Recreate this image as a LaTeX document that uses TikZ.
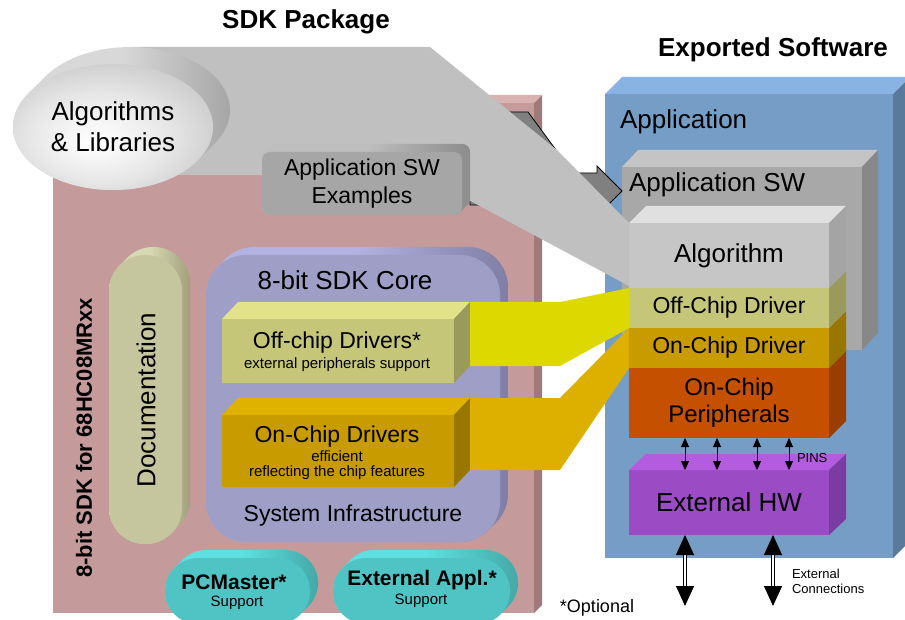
\documentclass[tikz,border=0pt]{standalone}
\usepackage{fontspec}
\setmainfont{Liberation Sans}
\usetikzlibrary{shapes.geometric,arrows.meta}

\definecolor{pinkF}{HTML}{C49A9A}
\definecolor{pinkT}{HTML}{D9B2B2}
\definecolor{pinkS}{HTML}{9E7A7A}
\definecolor{bandG}{HTML}{C0C0C0}
\definecolor{blueF}{HTML}{759DC6}
\definecolor{blueT}{HTML}{88B3E2}
\definecolor{blueS}{HTML}{5A7A9C}
\definecolor{appF}{HTML}{A8A8A8}
\definecolor{appT}{HTML}{C4C4C4}
\definecolor{appS}{HTML}{888888}
\definecolor{algF}{HTML}{C6C6C6}
\definecolor{algT}{HTML}{E0E0E0}
\definecolor{algS}{HTML}{A4A4A4}
\definecolor{offF}{HTML}{C6C678}
\definecolor{offT}{HTML}{E2E28A}
\definecolor{offS}{HTML}{9A9A5C}
\definecolor{onF}{HTML}{C89B00}
\definecolor{onT}{HTML}{E0B200}
\definecolor{onS}{HTML}{987600}
\definecolor{perF}{HTML}{C45000}
\definecolor{perS}{HTML}{9A3E00}
\definecolor{hwF}{HTML}{9B4CC4}
\definecolor{hwT}{HTML}{B45CE0}
\definecolor{hwS}{HTML}{7A3CA0}
\definecolor{coreF}{HTML}{9E9EC6}
\definecolor{coreT}{HTML}{B2B2E0}
\definecolor{coreS}{HTML}{7E7EA6}
\definecolor{docF}{HTML}{C6C69E}
\definecolor{docT}{HTML}{D8D8B2}
\definecolor{docS}{HTML}{A0A07E}
\definecolor{tealF}{HTML}{50C4C4}
\definecolor{tealT}{HTML}{5EE0E0}
\definecolor{tealS}{HTML}{44A8A8}
\definecolor{yelC}{HTML}{DDD800}
\definecolor{orgC}{HTML}{DDB000}
\definecolor{exF}{HTML}{A6A6A6}
\definecolor{exT}{HTML}{BEBEBE}
\definecolor{exS}{HTML}{8C8C8C}
\definecolor{arrG}{HTML}{808080}
\definecolor{ellT}{HTML}{D8D8D8}
\definecolor{ellS}{HTML}{A6A6A6}

\pgfdeclareradialshading{ellsh}{\pgfpoint{-5bp}{-6bp}}{color(0bp)=(white); color(6bp)=(white!97!black); color(18bp)=(black!10); color(30bp)=(black!20); color(40bp)=(black!27); color(60bp)=(black!27)}

\newcommand\fsz[1]{\fontsize{#1}{#1}\selectfont}
% faces of an extruded box: name, dx, dy (up), top colour, side colour
\newcommand\cubefaces[5]{%
  \fill[#4] (#1.north west) -- ++(#2,-#3) -- ([shift={(#2,-#3)}]#1.north east) -- (#1.north east) -- cycle;
  \fill[#5] (#1.north east) -- ++(#2,-#3) -- ([shift={(#2,-#3)}]#1.south east) -- (#1.south east) -- cycle;}
% hull of a rounded rectangle extruded up-right: x1,y1,x2,y2 (front, pixel), radius, depth, style
\newcommand\hullshape[7]{%
  \path[#7] plot[domain=225:180,samples=10] ({#1+#5+#5*cos(\x)},{#2+#5+#5*sin(\x)})
   -- plot[domain=180:90,samples=18] ({#1+#5+#5*cos(\x)},{#4-#5+#5*sin(\x)})
   -- plot[domain=90:45,samples=10] ({#3-#5+#5*cos(\x)},{#4-#5+#5*sin(\x)})
   -- plot[domain=45:0,samples=10] ({#3-#5+#6+#5*cos(\x)},{#4-#5-#6+#5*sin(\x)})
   -- plot[domain=360:270,samples=18] ({#3-#5+#6+#5*cos(\x)},{#2+#5-#6+#5*sin(\x)})
   -- plot[domain=270:225,samples=10] ({#1+#5+#6+#5*cos(\x)},{#2+#5-#6+#5*sin(\x)})
   -- cycle;}

\begin{document}
\begin{tikzpicture}[x=1pt,y=-1pt,
  every node/.style={inner sep=0pt, outer sep=0pt},
  face/.style={rectangle, align=center, text=black},
  lbl/.style={align=center, text=black},
  pinarrow/.style={line width=0.9pt, {Triangle[length=9pt,width=8pt]}-{Triangle[length=9pt,width=8pt]}},
  extarrow/.style={double distance=2.6pt, line width=1pt, {Triangle[length=20pt,width=18pt]}-{Triangle[length=20pt,width=18pt]}}]

\useasboundingbox (0,0) rectangle (905,620);
\clip (0,0) rectangle (905,620);

% ---------- SDK package box ----------
\node[face, fill=pinkF, minimum width=481pt, minimum height=510pt] (sdk) at (293.5,358) {};
\cubefaces{sdk}{8}{8}{pinkT}{pinkS}

% ---------- Exported software ----------
\node[face, fill=blueF, minimum width=288pt, minimum height=464pt] (exp) at (749,326) {};
\cubefaces{exp}{17}{17}{blueT}{blueS}
\node[lbl, font=\fsz{26}, anchor=west] (apptxt) at (620,122) {Application};

\node[face, fill=appF, minimum width=240pt, minimum height=183pt] (appsw) at (742,258.5) {};
\cubefaces{appsw}{16}{17}{appT}{appS}
\node[lbl, font=\fsz{26}, anchor=west] (appswtxt) at (629,185) {Application SW};

% stack, bottom up
\node[face, fill=hwF, minimum width=200pt, minimum height=65pt, font=\fsz{26}] (hw) at (729,502.5) {External HW};
\cubefaces{hw}{17}{16}{hwT}{hwS}
\node[face, fill=perF, minimum width=200pt, minimum height=70pt, font=\fontsize{24}{27}\selectfont] (per) at (729,403) {On-Chip\\Peripherals};
\cubefaces{per}{17}{17}{perF}{perS}
\node[face, fill=onF, minimum width=200pt, minimum height=40pt, font=\fsz{23}] (onc) at (729,348) {On-Chip Driver};
\cubefaces{onc}{17}{17}{onT}{onS}
\node[face, fill=offF, minimum width=200pt, minimum height=40pt, font=\fsz{23}] (offc) at (729,308) {Off-Chip Driver};
\cubefaces{offc}{17}{17}{offT}{offS}
\node[face, fill=algF, minimum width=200pt, minimum height=65pt, font=\fsz{26}] (alg) at (729,255.5) {Algorithm};
\cubefaces{alg}{17}{17}{algT}{algS}

% pins
\foreach \x in {685,717,757,789} {\draw[pinarrow] (per.south -| \x,0) -- (hw.north -| \x,0);}
\node[lbl, anchor=west, font=\fsz{13}] (pins) at (797,458) {PINS};

% external connections
\coordinate (ext1) at (685,606);
\coordinate (ext2) at (773,606);
\draw[extarrow] (hw.south -| ext1) -- (ext1);
\draw[extarrow] (hw.south -| ext2) -- (ext2);
\node[lbl, anchor=west, align=left, font=\fontsize{13}{15}\selectfont] (extc) at (792,581) {External\\Connections};

% ---------- inside SDK ----------
% documentation pill
\hullshape{109}{255}{182}{544}{36}{8}{left color=docT, right color=docS, middle color=docT}
\node[rectangle, fill=docF, rounded corners=36pt, minimum width=73pt, minimum height=289pt] (doc) at (145.5,399.5) {};
\node[lbl, rotate=90, font=\fsz{26}] (doctxt) at (146,400) {Documentation};

% core
\hullshape{206}{255}{500}{542}{40}{8}{left color=coreT, right color=coreS, middle color=coreT}
\node[rectangle, fill=coreF, rounded corners=40pt, minimum width=294pt, minimum height=287pt] (core) at (353,398.5) {};
\node[lbl, font=\fsz{26}] (coretxt) at (345,280) {8-bit SDK Core};
\node[lbl, font=\fsz{23}] (systxt) at (353,516) {System Infrastructure};

\node[face, fill=offF, minimum width=232pt, minimum height=64pt] (offd) at (338,351) {};
\cubefaces{offd}{16}{17}{offT}{offS}
\node[lbl, font=\fsz{23}] (offdtxt) at (337,343) {Off-chip Drivers*};
\node[lbl, font=\fsz{15}] (offdsub) at (337,365) {external peripherals support};

\node[face, fill=onF, minimum width=232pt, minimum height=72pt] (ond) at (338,451) {};
\cubefaces{ond}{16}{17}{onT}{onS}
\node[lbl, font=\fsz{23}] (ondtxt) at (337,437) {On-Chip Drivers};
\node[lbl, font=\fontsize{15}{15.5}\selectfont] (ondsub) at (337,465) {efficient\\reflecting the chip features};

% teal pills
\hullshape{165}{558}{310}{624}{33}{8}{left color=tealT, right color=tealS, middle color=tealT}
\node[rectangle, fill=tealF, rounded corners=33pt, minimum width=145pt, minimum height=66pt] (pcm) at (237.5,591) {};
\node[lbl, font=\bfseries\fsz{21}] (pcmtxt) at (234,582) {PCMaster*};
\node[lbl, font=\fsz{15}] (pcmsub) at (237,603) {Support};

\hullshape{333}{558}{510}{624}{33}{8}{left color=tealT, right color=tealS, middle color=tealT}
\node[rectangle, fill=tealF, rounded corners=33pt, minimum width=177pt, minimum height=66pt] (extapp) at (421.5,591) {};
\node[lbl, font=\bfseries\fsz{21}] (extapptxt) at (422,580) {External Appl.*};
\node[lbl, font=\fsz{15}] (extappsub) at (421,601) {Support};

% ---------- connectors ----------
\fill[yelC] ([shift={(16,-17)}]offd.north east) -- ++(90,0) -- (offc.north west) -- (offc.south west)
  -- ([shift={(106,-17)}]offd.south east) -- ([shift={(16,-17)}]offd.south east) -- cycle;
\fill[orgC] ([shift={(16,-17)}]ond.north east) -- ++(90,0) -- (onc.north west) -- (onc.south west)
  -- ([shift={(106,-17)}]ond.south east) -- ([shift={(16,-17)}]ond.south east) -- cycle;

% dark arrow from examples to application SW
\coordinate (tip) at ([yshift=-24pt]appsw.north west);
\filldraw[fill=arrG, draw=black, line width=0.8pt, line join=miter]
  (470,205) -- (470,112) -- (528,112) -- (573,173) -- (597,173) -- (597,166) -- (tip)
  -- (597,216) -- (597,205) -- cycle;

% grey band from algorithms & libraries to algorithm
\fill[bandG] (100,100) -- (130,47) -- (430,47) -- (557,150) -- (alg.north west)
  -- ([yshift=2pt]alg.south west) -- (422,175) -- (100,175) -- cycle;

% application SW examples
\hullshape{262}{152}{462}{215}{8}{8}{left color=exT, right color=exS, middle color=exT}
\node[rectangle, fill=exF, rounded corners=8pt, minimum width=200pt, minimum height=63pt,
  align=center, font=\fontsize{23}{28}\selectfont] (ex) at (362,183.5) {Application SW\\Examples};

% algorithms & libraries ellipse (extruded)
\path[left color=ellT, right color=ellS, middle color=ellT]
  plot[domain=32.2:212.2, samples=40] ({113+100*cos(\x)},{127+63*sin(\x)})
  -- plot[domain=212.2:392.2, samples=40] ({130+100*cos(\x)},{110+63*sin(\x)}) -- cycle;
\node[ellipse, shading=ellsh, minimum width=200pt, minimum height=126pt, align=center,
  font=\fontsize{26}{31}\selectfont] (alglib) at (113,127) {Algorithms\\\& Libraries};

% ---------- titles ----------
\node[lbl, font=\bfseries\fsz{26}] (title1) at (306,22) {SDK Package};
\node[lbl, font=\bfseries\fsz{26}] (title2) at (773,50) {Exported Software};
\node[lbl, rotate=90, font=\bfseries\fsz{22}] (sdkname) at (84,438) {8-bit SDK for 68HC08MRxx};
\node[lbl, font=\fsz{18}] (opt) at (597,608) {*Optional};
\end{tikzpicture}
\end{document}
